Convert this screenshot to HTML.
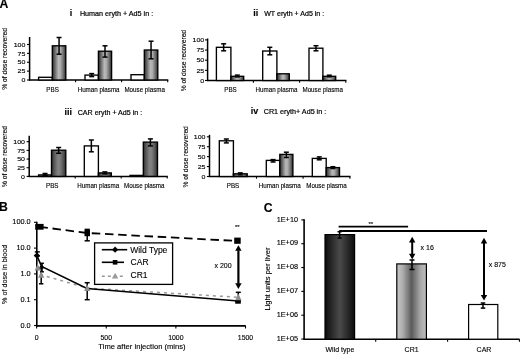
<!DOCTYPE html><html><head><meta charset="utf-8"><style>html,body{margin:0;padding:0;background:#fff;}svg{display:block;filter:grayscale(1) blur(0.35px);}</style></head><body>
<svg width="520" height="354" viewBox="0 0 520 354" font-family='"Liberation Sans", sans-serif'><style>text{stroke:#000;stroke-width:0.12px;}</style>
<defs>
<linearGradient id="gA" x1="0" x2="1" y1="0" y2="0">
<stop offset="0" stop-color="#2a2a2a"/><stop offset="0.15" stop-color="#5a5a5a"/><stop offset="0.45" stop-color="#b8b8b8"/><stop offset="0.6" stop-color="#adadad"/><stop offset="0.87" stop-color="#5e5e5e"/><stop offset="1" stop-color="#2a2a2a"/></linearGradient>
<linearGradient id="gC" x1="0" x2="1" y1="0" y2="0">
<stop offset="0" stop-color="#262626"/><stop offset="0.15" stop-color="#505050"/><stop offset="0.45" stop-color="#838383"/><stop offset="0.6" stop-color="#7c7c7c"/><stop offset="0.87" stop-color="#4a4a4a"/><stop offset="1" stop-color="#262626"/></linearGradient>
<linearGradient id="gWT" x1="0" x2="1" y1="0" y2="0">
<stop offset="0" stop-color="#0c0c0c"/><stop offset="0.25" stop-color="#2c2c2c"/><stop offset="0.5" stop-color="#4a4a4a"/><stop offset="0.75" stop-color="#2c2c2c"/><stop offset="1" stop-color="#0c0c0c"/></linearGradient>
<linearGradient id="gCR" x1="0" x2="1" y1="0" y2="0">
<stop offset="0" stop-color="#c8c8c8"/><stop offset="0.2" stop-color="#adadad"/><stop offset="0.5" stop-color="#5c5c5c"/><stop offset="0.8" stop-color="#a8a8a8"/><stop offset="1" stop-color="#c0c0c0"/></linearGradient>
</defs>
<rect width="520" height="354" fill="#fff"/>
<text x="-0.40" y="8.40" font-size="12.2" text-anchor="start" font-weight="bold" fill="#000" >A</text>
<line x1="29.60" y1="37.00" x2="29.60" y2="80.60" stroke="#000" stroke-width="1.5" />
<line x1="27.00" y1="80.00" x2="29.60" y2="80.00" stroke="#000" stroke-width="1.1" />
<text x="0" y="0" transform="translate(25.40,82.16) scale(1.17,1)" font-size="6" text-anchor="end" font-weight="normal" fill="#000" >0</text>
<line x1="27.00" y1="71.12" x2="29.60" y2="71.12" stroke="#000" stroke-width="1.1" />
<text x="0" y="0" transform="translate(25.40,73.28) scale(1.17,1)" font-size="6" text-anchor="end" font-weight="normal" fill="#000" >25</text>
<line x1="27.00" y1="62.25" x2="29.60" y2="62.25" stroke="#000" stroke-width="1.1" />
<text x="0" y="0" transform="translate(25.40,64.41) scale(1.17,1)" font-size="6" text-anchor="end" font-weight="normal" fill="#000" >50</text>
<line x1="27.00" y1="53.38" x2="29.60" y2="53.38" stroke="#000" stroke-width="1.1" />
<text x="0" y="0" transform="translate(25.40,55.53) scale(1.17,1)" font-size="6" text-anchor="end" font-weight="normal" fill="#000" >75</text>
<line x1="27.00" y1="44.50" x2="29.60" y2="44.50" stroke="#000" stroke-width="1.1" />
<text x="0" y="0" transform="translate(25.40,46.66) scale(1.17,1)" font-size="6" text-anchor="end" font-weight="normal" fill="#000" >100</text>
<line x1="29.00" y1="80.00" x2="168.30" y2="80.00" stroke="#000" stroke-width="1.5" />
<line x1="75.60" y1="80.00" x2="75.60" y2="82.20" stroke="#000" stroke-width="1.1" />
<line x1="121.60" y1="80.00" x2="121.60" y2="82.20" stroke="#000" stroke-width="1.1" />
<line x1="167.70" y1="80.00" x2="167.70" y2="82.20" stroke="#000" stroke-width="1.1" />
<rect x="38.60" y="77.30" width="13.70" height="2.70" fill="#fff" stroke="#000" stroke-width="1.35"/>
<rect x="52.30" y="45.80" width="13.50" height="34.20" fill="url(#gA)" stroke="#000" stroke-width="1.35"/>
<line x1="59.05" y1="37.50" x2="59.05" y2="54.20" stroke="#000" stroke-width="1.5" />
<line x1="56.55" y1="37.50" x2="61.55" y2="37.50" stroke="#000" stroke-width="1.5" />
<line x1="56.55" y1="54.20" x2="61.55" y2="54.20" stroke="#000" stroke-width="1.5" />
<rect x="85.00" y="75.10" width="13.40" height="4.90" fill="#fff" stroke="#000" stroke-width="1.35"/>
<rect x="98.40" y="51.20" width="13.20" height="28.80" fill="url(#gA)" stroke="#000" stroke-width="1.35"/>
<line x1="91.70" y1="73.60" x2="91.70" y2="76.60" stroke="#000" stroke-width="1.5" />
<line x1="89.20" y1="73.60" x2="94.20" y2="73.60" stroke="#000" stroke-width="1.5" />
<line x1="89.20" y1="76.60" x2="94.20" y2="76.60" stroke="#000" stroke-width="1.5" />
<line x1="105.00" y1="45.80" x2="105.00" y2="57.10" stroke="#000" stroke-width="1.5" />
<line x1="102.50" y1="45.80" x2="107.50" y2="45.80" stroke="#000" stroke-width="1.5" />
<line x1="102.50" y1="57.10" x2="107.50" y2="57.10" stroke="#000" stroke-width="1.5" />
<rect x="131.00" y="74.70" width="13.30" height="5.30" fill="#fff" stroke="#000" stroke-width="1.35"/>
<rect x="144.30" y="50.00" width="13.50" height="30.00" fill="url(#gA)" stroke="#000" stroke-width="1.35"/>
<line x1="151.05" y1="41.20" x2="151.05" y2="58.80" stroke="#000" stroke-width="1.5" />
<line x1="148.55" y1="41.20" x2="153.55" y2="41.20" stroke="#000" stroke-width="1.5" />
<line x1="148.55" y1="58.80" x2="153.55" y2="58.80" stroke="#000" stroke-width="1.5" />
<text x="0" y="0" transform="translate(52.60,91.60) scale(0.96,1)" font-size="6.5" text-anchor="middle" font-weight="normal" fill="#000" >PBS</text>
<text x="0" y="0" transform="translate(98.60,91.60) scale(0.96,1)" font-size="6.5" text-anchor="middle" font-weight="normal" fill="#000" >Human plasma</text>
<text x="0" y="0" transform="translate(144.65,91.60) scale(0.96,1)" font-size="6.5" text-anchor="middle" font-weight="normal" fill="#000" >Mouse plasma</text>
<text x="69.80" y="16.00" font-size="9" text-anchor="start" font-weight="bold" fill="#000" >i</text>
<text x="79.90" y="16.00" font-size="7.2" text-anchor="start" font-weight="normal" fill="#000" style="stroke-width:0.2px">Human eryth + Ad5 in :</text>
<text x="0" y="0" font-size="6.75" text-anchor="middle" transform="translate(7.40,58.90) rotate(-90) scale(1.0,1)">% of dose recovered</text>
<line x1="207.60" y1="38.50" x2="207.60" y2="81.10" stroke="#000" stroke-width="1.5" />
<line x1="205.00" y1="80.50" x2="207.60" y2="80.50" stroke="#000" stroke-width="1.1" />
<text x="0" y="0" transform="translate(204.20,82.66) scale(1.17,1)" font-size="6" text-anchor="end" font-weight="normal" fill="#000" >0</text>
<line x1="205.00" y1="70.35" x2="207.60" y2="70.35" stroke="#000" stroke-width="1.1" />
<text x="0" y="0" transform="translate(204.20,72.51) scale(1.17,1)" font-size="6" text-anchor="end" font-weight="normal" fill="#000" >25</text>
<line x1="205.00" y1="60.20" x2="207.60" y2="60.20" stroke="#000" stroke-width="1.1" />
<text x="0" y="0" transform="translate(204.20,62.36) scale(1.17,1)" font-size="6" text-anchor="end" font-weight="normal" fill="#000" >50</text>
<line x1="205.00" y1="50.05" x2="207.60" y2="50.05" stroke="#000" stroke-width="1.1" />
<text x="0" y="0" transform="translate(204.20,52.21) scale(1.17,1)" font-size="6" text-anchor="end" font-weight="normal" fill="#000" >75</text>
<line x1="205.00" y1="39.90" x2="207.60" y2="39.90" stroke="#000" stroke-width="1.1" />
<text x="0" y="0" transform="translate(204.20,42.06) scale(1.17,1)" font-size="6" text-anchor="end" font-weight="normal" fill="#000" >100</text>
<line x1="207.00" y1="80.50" x2="346.40" y2="80.50" stroke="#000" stroke-width="1.5" />
<line x1="253.40" y1="80.50" x2="253.40" y2="82.70" stroke="#000" stroke-width="1.1" />
<line x1="299.60" y1="80.50" x2="299.60" y2="82.70" stroke="#000" stroke-width="1.1" />
<line x1="345.80" y1="80.50" x2="345.80" y2="82.70" stroke="#000" stroke-width="1.1" />
<rect x="216.40" y="47.30" width="14.50" height="33.20" fill="#fff" stroke="#000" stroke-width="1.35"/>
<rect x="230.90" y="76.30" width="12.80" height="4.20" fill="url(#gA)" stroke="#000" stroke-width="1.35"/>
<line x1="223.65" y1="43.80" x2="223.65" y2="50.80" stroke="#000" stroke-width="1.5" />
<line x1="221.15" y1="43.80" x2="226.15" y2="43.80" stroke="#000" stroke-width="1.5" />
<line x1="221.15" y1="50.80" x2="226.15" y2="50.80" stroke="#000" stroke-width="1.5" />
<line x1="237.30" y1="75.10" x2="237.30" y2="76.90" stroke="#000" stroke-width="1.5" />
<line x1="234.80" y1="75.10" x2="239.80" y2="75.10" stroke="#000" stroke-width="1.5" />
<line x1="234.80" y1="76.90" x2="239.80" y2="76.90" stroke="#000" stroke-width="1.5" />
<rect x="262.70" y="51.00" width="14.20" height="29.50" fill="#fff" stroke="#000" stroke-width="1.35"/>
<rect x="276.90" y="73.80" width="12.40" height="6.70" fill="url(#gA)" stroke="#000" stroke-width="1.35"/>
<line x1="269.80" y1="47.30" x2="269.80" y2="54.80" stroke="#000" stroke-width="1.5" />
<line x1="267.30" y1="47.30" x2="272.30" y2="47.30" stroke="#000" stroke-width="1.5" />
<line x1="267.30" y1="54.80" x2="272.30" y2="54.80" stroke="#000" stroke-width="1.5" />
<rect x="309.00" y="48.20" width="13.90" height="32.30" fill="#fff" stroke="#000" stroke-width="1.35"/>
<rect x="322.90" y="76.30" width="12.80" height="4.20" fill="url(#gA)" stroke="#000" stroke-width="1.35"/>
<line x1="315.95" y1="45.70" x2="315.95" y2="50.80" stroke="#000" stroke-width="1.5" />
<line x1="313.45" y1="45.70" x2="318.45" y2="45.70" stroke="#000" stroke-width="1.5" />
<line x1="313.45" y1="50.80" x2="318.45" y2="50.80" stroke="#000" stroke-width="1.5" />
<line x1="329.30" y1="75.20" x2="329.30" y2="76.80" stroke="#000" stroke-width="1.5" />
<line x1="326.80" y1="75.20" x2="331.80" y2="75.20" stroke="#000" stroke-width="1.5" />
<line x1="326.80" y1="76.80" x2="331.80" y2="76.80" stroke="#000" stroke-width="1.5" />
<text x="0" y="0" transform="translate(230.50,92.20) scale(0.96,1)" font-size="6.5" text-anchor="middle" font-weight="normal" fill="#000" >PBS</text>
<text x="0" y="0" transform="translate(276.50,92.20) scale(0.96,1)" font-size="6.5" text-anchor="middle" font-weight="normal" fill="#000" >Human plasma</text>
<text x="0" y="0" transform="translate(322.70,92.20) scale(0.96,1)" font-size="6.5" text-anchor="middle" font-weight="normal" fill="#000" >Mouse plasma</text>
<text x="253.30" y="15.60" font-size="9" text-anchor="start" font-weight="bold" fill="#000" >ii</text>
<text x="264.20" y="15.60" font-size="7.05" text-anchor="start" font-weight="normal" fill="#000" style="stroke-width:0.2px">WT eryth + Ad5 in :</text>
<text x="0" y="0" font-size="6.7" text-anchor="middle" transform="translate(186.20,60.60) rotate(-90) scale(1.0,1)">% of dose recovered</text>
<line x1="29.20" y1="135.70" x2="29.20" y2="177.00" stroke="#000" stroke-width="1.5" />
<line x1="26.60" y1="176.40" x2="29.20" y2="176.40" stroke="#000" stroke-width="1.1" />
<text x="0" y="0" transform="translate(25.00,178.56) scale(1.17,1)" font-size="6" text-anchor="end" font-weight="normal" fill="#000" >0</text>
<line x1="26.60" y1="167.72" x2="29.20" y2="167.72" stroke="#000" stroke-width="1.1" />
<text x="0" y="0" transform="translate(25.00,169.88) scale(1.17,1)" font-size="6" text-anchor="end" font-weight="normal" fill="#000" >25</text>
<line x1="26.60" y1="159.05" x2="29.20" y2="159.05" stroke="#000" stroke-width="1.1" />
<text x="0" y="0" transform="translate(25.00,161.21) scale(1.17,1)" font-size="6" text-anchor="end" font-weight="normal" fill="#000" >50</text>
<line x1="26.60" y1="150.38" x2="29.20" y2="150.38" stroke="#000" stroke-width="1.1" />
<text x="0" y="0" transform="translate(25.00,152.53) scale(1.17,1)" font-size="6" text-anchor="end" font-weight="normal" fill="#000" >75</text>
<line x1="26.60" y1="141.70" x2="29.20" y2="141.70" stroke="#000" stroke-width="1.1" />
<text x="0" y="0" transform="translate(25.00,143.86) scale(1.17,1)" font-size="6" text-anchor="end" font-weight="normal" fill="#000" >100</text>
<line x1="28.60" y1="176.40" x2="167.80" y2="176.40" stroke="#000" stroke-width="1.5" />
<line x1="75.20" y1="176.40" x2="75.20" y2="178.60" stroke="#000" stroke-width="1.1" />
<line x1="121.20" y1="176.40" x2="121.20" y2="178.60" stroke="#000" stroke-width="1.1" />
<line x1="167.20" y1="176.40" x2="167.20" y2="178.60" stroke="#000" stroke-width="1.1" />
<rect x="38.60" y="174.90" width="12.90" height="1.50" fill="#fff" stroke="#000" stroke-width="1.35"/>
<rect x="51.50" y="150.20" width="14.30" height="26.20" fill="url(#gC)" stroke="#000" stroke-width="1.35"/>
<line x1="45.05" y1="173.50" x2="45.05" y2="175.20" stroke="#000" stroke-width="1.5" />
<line x1="42.55" y1="173.50" x2="47.55" y2="173.50" stroke="#000" stroke-width="1.5" />
<line x1="42.55" y1="175.20" x2="47.55" y2="175.20" stroke="#000" stroke-width="1.5" />
<line x1="58.65" y1="147.50" x2="58.65" y2="153.30" stroke="#000" stroke-width="1.5" />
<line x1="56.15" y1="147.50" x2="61.15" y2="147.50" stroke="#000" stroke-width="1.5" />
<line x1="56.15" y1="153.30" x2="61.15" y2="153.30" stroke="#000" stroke-width="1.5" />
<rect x="84.30" y="145.90" width="14.10" height="30.50" fill="#fff" stroke="#000" stroke-width="1.35"/>
<rect x="98.40" y="172.90" width="12.90" height="3.50" fill="url(#gC)" stroke="#000" stroke-width="1.35"/>
<line x1="91.35" y1="140.00" x2="91.35" y2="151.80" stroke="#000" stroke-width="1.5" />
<line x1="88.85" y1="140.00" x2="93.85" y2="140.00" stroke="#000" stroke-width="1.5" />
<line x1="88.85" y1="151.80" x2="93.85" y2="151.80" stroke="#000" stroke-width="1.5" />
<line x1="104.85" y1="171.90" x2="104.85" y2="173.90" stroke="#000" stroke-width="1.5" />
<line x1="102.35" y1="171.90" x2="107.35" y2="171.90" stroke="#000" stroke-width="1.5" />
<line x1="102.35" y1="173.90" x2="107.35" y2="173.90" stroke="#000" stroke-width="1.5" />
<rect x="130.00" y="175.40" width="13.30" height="1.00" fill="#fff" stroke="#000" stroke-width="1.35"/>
<rect x="143.30" y="142.10" width="14.20" height="34.30" fill="url(#gC)" stroke="#000" stroke-width="1.35"/>
<line x1="150.40" y1="138.90" x2="150.40" y2="145.90" stroke="#000" stroke-width="1.5" />
<line x1="147.90" y1="138.90" x2="152.90" y2="138.90" stroke="#000" stroke-width="1.5" />
<line x1="147.90" y1="145.90" x2="152.90" y2="145.90" stroke="#000" stroke-width="1.5" />
<text x="0" y="0" transform="translate(52.20,188.40) scale(0.96,1)" font-size="6.5" text-anchor="middle" font-weight="normal" fill="#000" >PBS</text>
<text x="0" y="0" transform="translate(98.20,188.40) scale(0.96,1)" font-size="6.5" text-anchor="middle" font-weight="normal" fill="#000" >Human plasma</text>
<text x="0" y="0" transform="translate(144.20,188.40) scale(0.96,1)" font-size="6.5" text-anchor="middle" font-weight="normal" fill="#000" >Mouse plasma</text>
<text x="64.40" y="114.70" font-size="9" text-anchor="start" font-weight="bold" fill="#000" >iii</text>
<text x="77.70" y="114.70" font-size="7.1" text-anchor="start" font-weight="normal" fill="#000" style="stroke-width:0.2px">CAR eryth + Ad5 in :</text>
<text x="0" y="0" font-size="6.65" text-anchor="middle" transform="translate(7.10,156.55) rotate(-90) scale(1.0,1)">% of dose recovered</text>
<line x1="209.50" y1="134.80" x2="209.50" y2="177.10" stroke="#000" stroke-width="1.5" />
<line x1="206.90" y1="176.50" x2="209.50" y2="176.50" stroke="#000" stroke-width="1.1" />
<text x="0" y="0" transform="translate(205.50,178.66) scale(1.17,1)" font-size="6" text-anchor="end" font-weight="normal" fill="#000" >0</text>
<line x1="206.90" y1="166.57" x2="209.50" y2="166.57" stroke="#000" stroke-width="1.1" />
<text x="0" y="0" transform="translate(205.50,168.73) scale(1.17,1)" font-size="6" text-anchor="end" font-weight="normal" fill="#000" >25</text>
<line x1="206.90" y1="156.65" x2="209.50" y2="156.65" stroke="#000" stroke-width="1.1" />
<text x="0" y="0" transform="translate(205.50,158.81) scale(1.17,1)" font-size="6" text-anchor="end" font-weight="normal" fill="#000" >50</text>
<line x1="206.90" y1="146.73" x2="209.50" y2="146.73" stroke="#000" stroke-width="1.1" />
<text x="0" y="0" transform="translate(205.50,148.89) scale(1.17,1)" font-size="6" text-anchor="end" font-weight="normal" fill="#000" >75</text>
<line x1="206.90" y1="136.80" x2="209.50" y2="136.80" stroke="#000" stroke-width="1.1" />
<text x="0" y="0" transform="translate(205.50,138.96) scale(1.17,1)" font-size="6" text-anchor="end" font-weight="normal" fill="#000" >100</text>
<line x1="208.90" y1="176.50" x2="350.50" y2="176.50" stroke="#000" stroke-width="1.5" />
<line x1="256.50" y1="176.50" x2="256.50" y2="178.70" stroke="#000" stroke-width="1.1" />
<line x1="303.10" y1="176.50" x2="303.10" y2="178.70" stroke="#000" stroke-width="1.1" />
<line x1="349.90" y1="176.50" x2="349.90" y2="178.70" stroke="#000" stroke-width="1.1" />
<rect x="219.30" y="140.80" width="14.10" height="35.70" fill="#fff" stroke="#000" stroke-width="1.35"/>
<rect x="233.40" y="173.80" width="13.80" height="2.70" fill="url(#gA)" stroke="#000" stroke-width="1.35"/>
<line x1="226.35" y1="139.00" x2="226.35" y2="142.90" stroke="#000" stroke-width="1.5" />
<line x1="223.85" y1="139.00" x2="228.85" y2="139.00" stroke="#000" stroke-width="1.5" />
<line x1="223.85" y1="142.90" x2="228.85" y2="142.90" stroke="#000" stroke-width="1.5" />
<line x1="240.30" y1="172.90" x2="240.30" y2="174.90" stroke="#000" stroke-width="1.5" />
<line x1="237.80" y1="172.90" x2="242.80" y2="172.90" stroke="#000" stroke-width="1.5" />
<line x1="237.80" y1="174.90" x2="242.80" y2="174.90" stroke="#000" stroke-width="1.5" />
<rect x="266.30" y="160.40" width="13.50" height="16.10" fill="#fff" stroke="#000" stroke-width="1.35"/>
<rect x="279.80" y="154.40" width="13.10" height="22.10" fill="url(#gA)" stroke="#000" stroke-width="1.35"/>
<line x1="273.05" y1="159.60" x2="273.05" y2="162.00" stroke="#000" stroke-width="1.5" />
<line x1="270.55" y1="159.60" x2="275.55" y2="159.60" stroke="#000" stroke-width="1.5" />
<line x1="270.55" y1="162.00" x2="275.55" y2="162.00" stroke="#000" stroke-width="1.5" />
<line x1="286.35" y1="152.20" x2="286.35" y2="157.50" stroke="#000" stroke-width="1.5" />
<line x1="283.85" y1="152.20" x2="288.85" y2="152.20" stroke="#000" stroke-width="1.5" />
<line x1="283.85" y1="157.50" x2="288.85" y2="157.50" stroke="#000" stroke-width="1.5" />
<rect x="312.30" y="158.40" width="13.90" height="18.10" fill="#fff" stroke="#000" stroke-width="1.35"/>
<rect x="326.20" y="167.60" width="13.30" height="8.90" fill="url(#gA)" stroke="#000" stroke-width="1.35"/>
<line x1="319.25" y1="156.90" x2="319.25" y2="159.80" stroke="#000" stroke-width="1.5" />
<line x1="316.75" y1="156.90" x2="321.75" y2="156.90" stroke="#000" stroke-width="1.5" />
<line x1="316.75" y1="159.80" x2="321.75" y2="159.80" stroke="#000" stroke-width="1.5" />
<line x1="332.85" y1="166.70" x2="332.85" y2="168.50" stroke="#000" stroke-width="1.5" />
<line x1="330.35" y1="166.70" x2="335.35" y2="166.70" stroke="#000" stroke-width="1.5" />
<line x1="330.35" y1="168.50" x2="335.35" y2="168.50" stroke="#000" stroke-width="1.5" />
<text x="0" y="0" transform="translate(233.00,188.40) scale(0.96,1)" font-size="6.5" text-anchor="middle" font-weight="normal" fill="#000" >PBS</text>
<text x="0" y="0" transform="translate(279.80,188.40) scale(0.96,1)" font-size="6.5" text-anchor="middle" font-weight="normal" fill="#000" >Human plasma</text>
<text x="0" y="0" transform="translate(326.50,188.40) scale(0.96,1)" font-size="6.5" text-anchor="middle" font-weight="normal" fill="#000" >Mouse plasma</text>
<text x="250.80" y="114.40" font-size="9" text-anchor="start" font-weight="bold" fill="#000" >iv</text>
<text x="263.70" y="114.40" font-size="7.2" text-anchor="start" font-weight="normal" fill="#000" style="stroke-width:0.2px">CR1 eryth+ Ad5 in :</text>
<text x="0" y="0" font-size="6.7" text-anchor="middle" transform="translate(188.30,156.85) rotate(-90) scale(1.0,1)">% of dose recovered</text>
<text x="-1.10" y="211.30" font-size="12.2" text-anchor="start" font-weight="bold" fill="#000" >B</text>
<line x1="36.80" y1="221.80" x2="36.80" y2="326.50" stroke="#000" stroke-width="1.6" />
<line x1="34.00" y1="222.30" x2="36.80" y2="222.30" stroke="#000" stroke-width="1.1" />
<text x="0" y="0" transform="translate(30.70,224.40) scale(1.13,1)" font-size="6.5" text-anchor="end" font-weight="normal" fill="#000" >100.0</text>
<line x1="34.00" y1="248.10" x2="36.80" y2="248.10" stroke="#000" stroke-width="1.1" />
<text x="0" y="0" transform="translate(30.70,250.20) scale(1.13,1)" font-size="6.5" text-anchor="end" font-weight="normal" fill="#000" >10.0</text>
<line x1="34.00" y1="273.90" x2="36.80" y2="273.90" stroke="#000" stroke-width="1.1" />
<text x="0" y="0" transform="translate(30.70,276.00) scale(1.13,1)" font-size="6.5" text-anchor="end" font-weight="normal" fill="#000" >1.0</text>
<line x1="34.00" y1="299.70" x2="36.80" y2="299.70" stroke="#000" stroke-width="1.1" />
<text x="0" y="0" transform="translate(30.70,301.80) scale(1.13,1)" font-size="6.5" text-anchor="end" font-weight="normal" fill="#000" >0.1</text>
<line x1="34.00" y1="325.50" x2="36.80" y2="325.50" stroke="#000" stroke-width="1.1" />
<text x="0" y="0" transform="translate(30.70,327.60) scale(1.13,1)" font-size="6.5" text-anchor="end" font-weight="normal" fill="#000" >0.0</text>
<line x1="36.20" y1="325.90" x2="245.80" y2="325.90" stroke="#000" stroke-width="1.6" />
<line x1="36.60" y1="325.90" x2="36.60" y2="328.50" stroke="#000" stroke-width="1.1" />
<text x="36.60" y="339.60" font-size="6.9" text-anchor="middle" font-weight="normal" fill="#000" >0</text>
<line x1="106.24" y1="325.90" x2="106.24" y2="328.50" stroke="#000" stroke-width="1.1" />
<text x="106.24" y="339.60" font-size="6.9" text-anchor="middle" font-weight="normal" fill="#000" >500</text>
<line x1="175.87" y1="325.90" x2="175.87" y2="328.50" stroke="#000" stroke-width="1.1" />
<text x="175.87" y="339.60" font-size="6.9" text-anchor="middle" font-weight="normal" fill="#000" >1000</text>
<line x1="245.50" y1="325.90" x2="245.50" y2="328.50" stroke="#000" stroke-width="1.1" />
<text x="245.50" y="339.60" font-size="6.9" text-anchor="middle" font-weight="normal" fill="#000" >1500</text>
<text x="0" y="0" transform="translate(142.00,349.40) scale(1.03,1)" font-size="7.4" text-anchor="middle" font-weight="normal" fill="#000" >Time after injection (mins)</text>
<text x="0" y="0" font-size="7.2" text-anchor="middle" transform="translate(6.60,274.35) rotate(-90) scale(1.0,1)">% of dose in blood</text>
<polyline points="39.4,226.8 87.2,233.0 237.4,241.0" fill="none" stroke="#000" stroke-width="1.8" stroke-dasharray="8.5,4.7" stroke-dashoffset="0"/>
<line x1="87.20" y1="229.40" x2="87.20" y2="240.80" stroke="#000" stroke-width="1.5" />
<line x1="84.60" y1="229.40" x2="89.80" y2="229.40" stroke="#000" stroke-width="1.5" />
<line x1="84.60" y1="240.80" x2="89.80" y2="240.80" stroke="#000" stroke-width="1.5" />
<rect x="35.20" y="223.90" width="8.40" height="5.80" fill="#000" stroke="none" stroke-width="0"/>
<rect x="84.50" y="230.00" width="5.50" height="6.20" fill="#000" stroke="none" stroke-width="0"/>
<rect x="234.20" y="237.60" width="6.50" height="6.20" fill="#000" stroke="none" stroke-width="0"/>
<polyline points="37.7,267.4 41.2,274.8 87.2,288.1 238.4,297.3" fill="none" stroke="#999" stroke-width="1.5" stroke-dasharray="3,4"/>
<polyline points="36.9,255.6 41.6,266.5 87.0,288.5 238.2,301.0" fill="none" stroke="#000" stroke-width="1.6"/>
<line x1="37.30" y1="251.90" x2="37.30" y2="256.00" stroke="#000" stroke-width="1.5" />
<line x1="34.80" y1="251.90" x2="39.80" y2="251.90" stroke="#000" stroke-width="1.5" />
<line x1="34.80" y1="256.00" x2="39.80" y2="256.00" stroke="#000" stroke-width="1.5" />
<line x1="42.00" y1="263.30" x2="42.00" y2="271.80" stroke="#000" stroke-width="1.5" />
<line x1="40.10" y1="263.30" x2="43.90" y2="263.30" stroke="#000" stroke-width="1.5" />
<line x1="40.10" y1="271.80" x2="43.90" y2="271.80" stroke="#000" stroke-width="1.5" />
<line x1="41.20" y1="268.00" x2="41.20" y2="283.80" stroke="#000" stroke-width="1.5" />
<line x1="39.00" y1="268.00" x2="43.40" y2="268.00" stroke="#000" stroke-width="1.5" />
<line x1="39.00" y1="283.80" x2="43.40" y2="283.80" stroke="#000" stroke-width="1.5" />
<line x1="87.20" y1="282.70" x2="87.20" y2="299.70" stroke="#000" stroke-width="1.5" />
<line x1="84.70" y1="282.70" x2="89.70" y2="282.70" stroke="#000" stroke-width="1.5" />
<line x1="84.70" y1="299.70" x2="89.70" y2="299.70" stroke="#000" stroke-width="1.5" />
<line x1="238.30" y1="292.30" x2="238.30" y2="301.00" stroke="#000" stroke-width="1.5" />
<line x1="235.80" y1="292.30" x2="240.80" y2="292.30" stroke="#000" stroke-width="1.5" />
<line x1="235.80" y1="301.00" x2="240.80" y2="301.00" stroke="#000" stroke-width="1.5" />
<polygon points="36.9,252.4 40.1,255.6 36.9,258.8 33.7,255.6" fill="#000"/>
<polygon points="41.6,264.5 43.6,266.5 41.6,268.5 39.6,266.5" fill="#000"/>
<polygon points="87.0,286.5 89.0,288.5 87.0,290.5 85.0,288.5" fill="#000"/>
<rect x="235.20" y="299.80" width="5.60" height="3.90" fill="#000" stroke="none" stroke-width="0"/>
<polygon points="37.7,263.8 40.8,270.4 34.6,270.4" fill="#8e8e8e"/>
<polygon points="41.2,271.2 44.3,277.8 38.1,277.8" fill="#8e8e8e"/>
<polygon points="87.2,284.5 90.3,291.1 84.1,291.1" fill="#8e8e8e"/>
<polygon points="238.4,293.7 241.5,300.3 235.3,300.3" fill="#8e8e8e"/>
<rect x="94.60" y="242.90" width="78.00" height="41.50" fill="#fff" stroke="#000" stroke-width="1.3"/>
<line x1="101.80" y1="249.70" x2="127.20" y2="249.70" stroke="#000" stroke-width="1.6" />
<polygon points="115.1,246.6 118.2,249.7 115.1,252.8 112.0,249.7" fill="#000"/>
<text x="130.20" y="252.60" font-size="8.5" text-anchor="start" font-weight="normal" fill="#000" >Wild Type</text>
<line x1="101.80" y1="262.30" x2="124.00" y2="262.30" stroke="#000" stroke-width="1.6" />
<rect x="112.80" y="260.00" width="4.60" height="4.60" fill="#000" stroke="none" stroke-width="0"/>
<text x="130.60" y="265.30" font-size="8.5" text-anchor="start" font-weight="normal" fill="#000" >CAR</text>
<line x1="101.80" y1="276.20" x2="125.00" y2="276.20" stroke="#999" stroke-width="1.4" stroke-dasharray="3,3"/>
<polygon points="115.1,273.0 118.3,278.5 111.9,278.5" fill="#999"/>
<text x="130.60" y="278.40" font-size="8.5" text-anchor="start" font-weight="normal" fill="#000" >CR1</text>
<text x="237.30" y="229.20" font-size="6" text-anchor="middle" font-weight="normal" fill="#000" >**</text>
<line x1="238.40" y1="250.30" x2="238.40" y2="283.80" stroke="#000" stroke-width="2.2" />
<polygon points="238.4,245.2 241.6,250.8 235.2,250.8" fill="#000"/>
<polygon points="238.4,288.9 241.6,283.3 235.2,283.3" fill="#000"/>
<text x="231.60" y="268.30" font-size="7" text-anchor="end" font-weight="normal" fill="#000" >x 200</text>
<text x="263.70" y="211.60" font-size="12.2" text-anchor="start" font-weight="bold" fill="#000" >C</text>
<line x1="304.10" y1="219.20" x2="304.10" y2="339.80" stroke="#000" stroke-width="1.6" />
<line x1="301.30" y1="219.90" x2="304.10" y2="219.90" stroke="#000" stroke-width="1.1" />
<text x="0" y="0" transform="translate(298.00,221.60) scale(1.09,1)" font-size="6.7" text-anchor="end" font-weight="normal" fill="#000" >1E+10</text>
<line x1="301.30" y1="243.73" x2="304.10" y2="243.73" stroke="#000" stroke-width="1.1" />
<text x="0" y="0" transform="translate(298.00,245.43) scale(1.09,1)" font-size="6.7" text-anchor="end" font-weight="normal" fill="#000" >1E+09</text>
<line x1="301.30" y1="267.56" x2="304.10" y2="267.56" stroke="#000" stroke-width="1.1" />
<text x="0" y="0" transform="translate(298.00,269.26) scale(1.09,1)" font-size="6.7" text-anchor="end" font-weight="normal" fill="#000" >1E+08</text>
<line x1="301.30" y1="291.39" x2="304.10" y2="291.39" stroke="#000" stroke-width="1.1" />
<text x="0" y="0" transform="translate(298.00,293.09) scale(1.09,1)" font-size="6.7" text-anchor="end" font-weight="normal" fill="#000" >1E+07</text>
<line x1="301.30" y1="315.22" x2="304.10" y2="315.22" stroke="#000" stroke-width="1.1" />
<text x="0" y="0" transform="translate(298.00,316.92) scale(1.09,1)" font-size="6.7" text-anchor="end" font-weight="normal" fill="#000" >1E+06</text>
<line x1="301.30" y1="339.05" x2="304.10" y2="339.05" stroke="#000" stroke-width="1.1" />
<text x="0" y="0" transform="translate(298.00,340.75) scale(1.09,1)" font-size="6.7" text-anchor="end" font-weight="normal" fill="#000" >1E+05</text>
<line x1="303.50" y1="339.20" x2="519.60" y2="339.20" stroke="#000" stroke-width="1.6" />
<line x1="375.70" y1="339.20" x2="375.70" y2="341.80" stroke="#000" stroke-width="1.1" />
<line x1="447.60" y1="339.20" x2="447.60" y2="341.80" stroke="#000" stroke-width="1.1" />
<line x1="519.40" y1="339.20" x2="519.40" y2="341.80" stroke="#000" stroke-width="1.1" />
<text x="0" y="0" font-size="6.8" text-anchor="middle" transform="translate(270.20,279.10) rotate(-90) scale(1.104,1)">Light units per liver</text>
<rect x="325.00" y="234.60" width="29.60" height="104.60" fill="url(#gWT)" stroke="#000" stroke-width="1.2"/>
<rect x="396.80" y="263.90" width="29.60" height="75.30" fill="url(#gCR)" stroke="#000" stroke-width="1.2"/>
<rect x="468.60" y="304.50" width="29.20" height="34.70" fill="#fff" stroke="#000" stroke-width="1.2"/>
<line x1="339.60" y1="231.70" x2="339.60" y2="238.10" stroke="#000" stroke-width="1.5" />
<line x1="337.50" y1="231.70" x2="341.70" y2="231.70" stroke="#000" stroke-width="1.5" />
<line x1="337.50" y1="238.10" x2="341.70" y2="238.10" stroke="#000" stroke-width="1.5" />
<line x1="412.00" y1="260.00" x2="412.00" y2="269.50" stroke="#000" stroke-width="1.5" />
<line x1="409.50" y1="260.00" x2="414.50" y2="260.00" stroke="#000" stroke-width="1.5" />
<line x1="409.50" y1="269.50" x2="414.50" y2="269.50" stroke="#000" stroke-width="1.5" />
<line x1="483.00" y1="303.00" x2="483.00" y2="308.10" stroke="#000" stroke-width="1.5" />
<line x1="480.75" y1="303.00" x2="485.25" y2="303.00" stroke="#000" stroke-width="1.5" />
<line x1="480.75" y1="308.10" x2="485.25" y2="308.10" stroke="#000" stroke-width="1.5" />
<line x1="338.60" y1="226.70" x2="408.10" y2="226.70" stroke="#000" stroke-width="1.8" />
<line x1="339.20" y1="231.00" x2="487.00" y2="231.00" stroke="#000" stroke-width="2.0" />
<text x="370.80" y="226.00" font-size="6" text-anchor="middle" font-weight="normal" fill="#000" >**</text>
<line x1="412.20" y1="241.90" x2="412.20" y2="254.30" stroke="#000" stroke-width="2.0" />
<polygon points="412.2,236.8 415.4,242.4 409.0,242.4" fill="#000"/>
<polygon points="412.2,259.4 415.4,253.8 409.0,253.8" fill="#000"/>
<line x1="484.00" y1="242.90" x2="484.00" y2="295.50" stroke="#000" stroke-width="2.0" />
<polygon points="484.0,237.8 487.2,243.4 480.8,243.4" fill="#000"/>
<polygon points="484.0,300.6 487.2,295.0 480.8,295.0" fill="#000"/>
<text x="420.60" y="250.00" font-size="7" text-anchor="start" font-weight="normal" fill="#000" >x 16</text>
<text x="488.70" y="267.40" font-size="7" text-anchor="start" font-weight="normal" fill="#000" >x 875</text>
<text x="339.90" y="351.60" font-size="7" text-anchor="middle" font-weight="normal" fill="#000" >Wild type</text>
<text x="411.60" y="351.60" font-size="7" text-anchor="middle" font-weight="normal" fill="#000" >CR1</text>
<text x="484.00" y="351.60" font-size="7" text-anchor="middle" font-weight="normal" fill="#000" >CAR</text>
</svg></body></html>
